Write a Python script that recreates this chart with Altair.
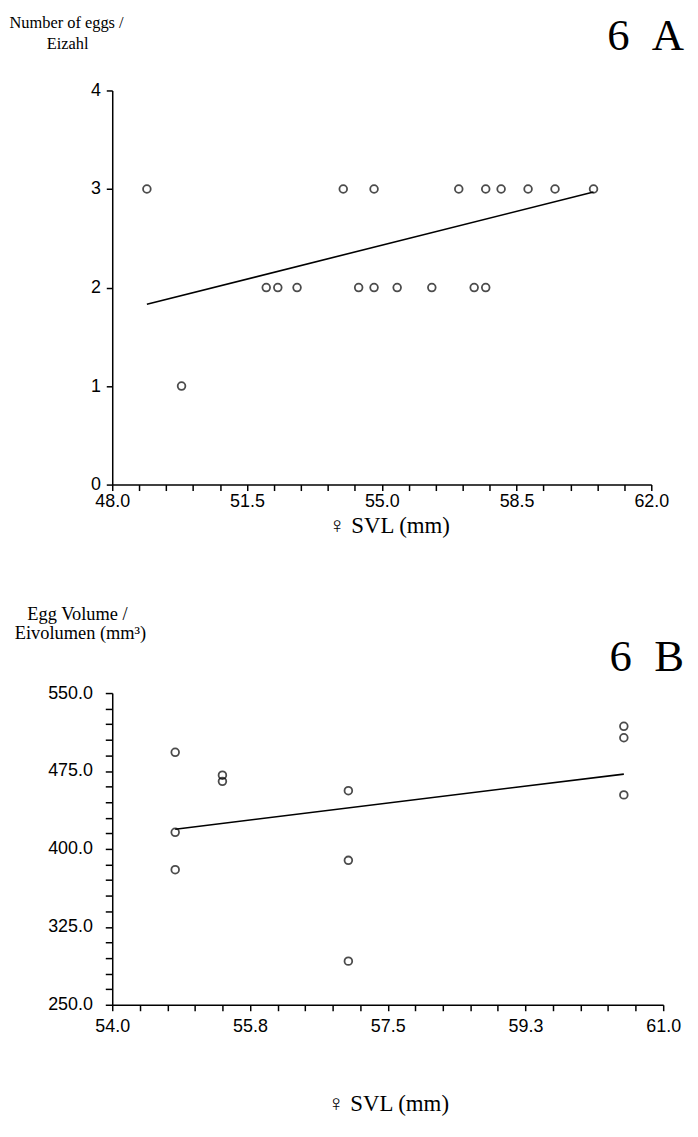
import altair as alt
import pandas as pd

# ---------------- Panel 6A: number of eggs vs female SVL ----------------
svl_a = [48.9, 54.0, 54.8, 57.0, 57.7, 58.1, 58.8, 59.5, 60.5,
         52.0, 52.3, 52.8, 54.4, 54.8, 55.4, 56.3, 57.4, 57.7,
         49.8]
eggs_a = [3, 3, 3, 3, 3, 3, 3, 3, 3,
          2, 2, 2, 2, 2, 2, 2, 2, 2,
          1]
fit_a_x = [48.9, 60.5]
fit_a_y = [1.83, 2.97]
xa_ticks = [48.0, 48.7, 49.4, 50.1, 50.8, 51.5, 52.2, 52.9, 53.6, 54.3, 55.0,
            55.7, 56.4, 57.1, 57.8, 58.5, 59.2, 59.9, 60.6, 61.3, 62.0]
xa_labels = [48.0, 51.5, 55.0, 58.5, 62.0]
ya_ticks = [0, 1, 2, 3, 4]

# ---------------- Panel 6B: egg volume vs female SVL ----------------
svl_b = [54.8, 54.8, 54.8, 55.4, 55.4, 57.0, 57.0, 57.0, 60.5, 60.5, 60.5]
vol_b = [493.0, 416.0, 380.0, 471.0, 465.0, 456.0, 389.0, 292.0, 518.0, 507.0, 452.0]
fit_b_x = [54.8, 60.5]
fit_b_y = [419.0, 472.0]
xb_ticks = [54.0, 54.35, 54.7, 55.05, 55.4, 55.75, 56.1, 56.45, 56.8, 57.15, 57.5,
            57.85, 58.2, 58.55, 58.9, 59.25, 59.6, 59.95, 60.3, 60.65, 61.0]
xb_labels = [54.0, 55.75, 57.5, 59.25, 61.0]
yb_ticks = [250, 265, 280, 295, 310, 325, 340, 355, 370, 385, 400,
            415, 430, 445, 460, 475, 490, 505, 520, 535, 550]
yb_labels = [250, 325, 400, 475, 550]

SERIF = "Liberation Serif"
SANS = "Liberation Sans"


def label_expr(labels, fmt):
    cond = " || ".join(f"abs(datum.value - {v}) < 0.001" for v in labels)
    return f"({cond}) ? format(datum.value, '{fmt}') : ''"


def axis_kw(pad=3, tick=6):
    return dict(domainColor="black", domainWidth=1.5, tickColor="black",
                tickWidth=1.5, tickSize=tick, labelFont=SANS, labelFontSize=18,
                labelColor="black", labelFlush=False, labelOverlap=False,
                grid=False, title=None, labelPadding=pad)


def txt(s, x, y, size, align="center", font=SERIF):
    return alt.Chart(pd.DataFrame({"t": [s]})).mark_text(
        align=align, baseline="alphabetic", font=font, fontSize=size,
        color="black").encode(x=alt.value(x), y=alt.value(y), text="t:N")


def anchor(x, y):
    return alt.Chart(pd.DataFrame({"a": [0]})).mark_rule(opacity=0).encode(
        x=alt.value(x), x2=alt.value(x + 1), y=alt.value(y), y2=alt.value(y + 1))


PT = dict(shape="circle", filled=False, size=60, color="black", strokeWidth=1.8)

# ---- top panel ----
W_A, H_A = 543, 397
xa = alt.X("svl:Q", scale=alt.Scale(domain=[48, 62], nice=False, zero=False),
           axis=alt.Axis(values=xa_ticks, labelExpr=label_expr(xa_labels, ".1f"),
                         **axis_kw(pad=2, tick=6)))
ya = alt.Y("val:Q", scale=alt.Scale(domain=[0, 4], nice=False, zero=False),
           axis=alt.Axis(values=ya_ticks, format="d", **axis_kw(pad=6, tick=6)))

pts_a = alt.Chart(pd.DataFrame({"svl": svl_a, "val": eggs_a})).mark_point(**PT).encode(x=xa, y=ya)
line_a = alt.Chart(pd.DataFrame({"svl": fit_a_x, "val": fit_a_y})).mark_line(
    color="black", strokeWidth=1.6).encode(x=xa, y=ya)

top = alt.layer(
    pts_a, line_a,
    txt("Number of eggs /", -46, -63, 16.5),
    txt("Eizahl", -45, -42, 16.5),
    txt("6\u2002A", 576, -41, 45, align="right"),
    txt("\u2640 SVL (mm)", 279, 446, 23),
    anchor(-105, -70),
).properties(width=W_A, height=H_A)

# ---- bottom panel ----
W_B, H_B = 555, 314
xb = alt.X("svl:Q", scale=alt.Scale(domain=[54, 61], nice=False, zero=False),
           axis=alt.Axis(values=xb_ticks, labelExpr=label_expr(xb_labels, ".1f"),
                         **axis_kw(pad=7, tick=6)))
yb = alt.Y("val:Q", scale=alt.Scale(domain=[250, 550], nice=False, zero=False),
           axis=alt.Axis(values=yb_ticks, labelExpr=label_expr(yb_labels, ".1f"),
                         **axis_kw(pad=13, tick=7)))

pts_b = alt.Chart(pd.DataFrame({"svl": svl_b, "val": vol_b})).mark_point(**PT).encode(x=xb, y=yb)
line_b = alt.Chart(pd.DataFrame({"svl": fit_b_x, "val": fit_b_y})).mark_line(
    color="black", strokeWidth=1.6).encode(x=xb, y=yb)

bottom = alt.layer(
    pts_b, line_b,
    txt("Egg Volume /", -35, -74, 18.5),
    txt("Eivolumen (mm\u00b3)", -32, -54, 18.5),
    txt("6\u2002B", 576, -22, 45, align="right"),
    txt("\u2640 SVL (mm)", 278, 421, 23),
).properties(width=W_B, height=H_B)

chart = alt.vconcat(top, bottom, spacing=210, bounds="flush").properties(
    padding={"left": 0, "top": 2, "right": 6, "bottom": 0}
).configure_view(stroke=None)

chart.save("out.html", embed_options={"renderer": "svg", "actions": False})
